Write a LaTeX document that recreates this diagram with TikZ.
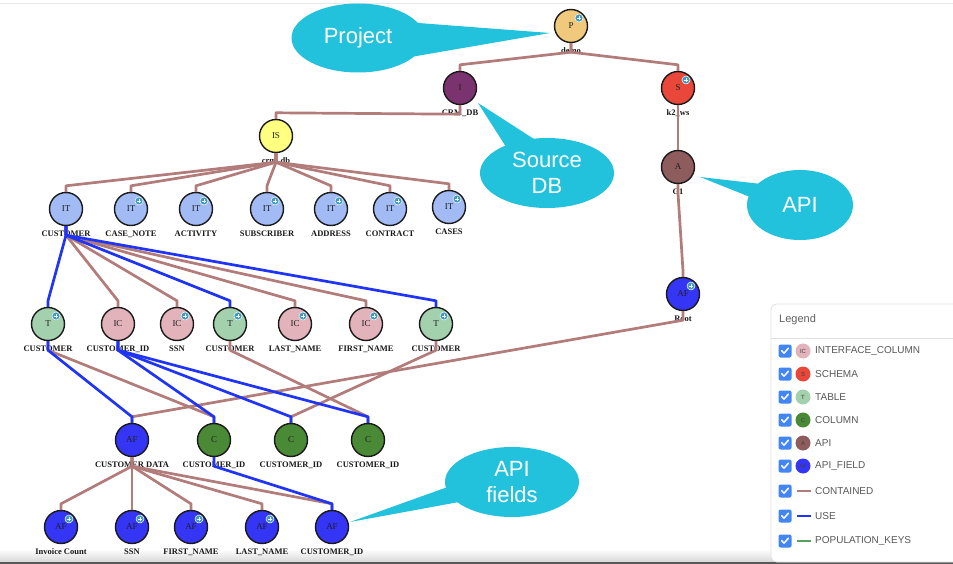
\documentclass[tikz,border=0pt]{standalone}
\usepackage{fontspec}
\setmainfont{Liberation Serif}
\newfontfamily\lsans{Liberation Sans}
\usetikzlibrary{shapes.geometric}
\definecolor{brownE}{RGB}{178,124,122}
\definecolor{blueE}{RGB}{32,52,245}
\definecolor{cP}{RGB}{240,201,124}
\definecolor{cI}{RGB}{123,51,112}
\definecolor{cS}{RGB}{232,71,58}
\definecolor{cIS}{RGB}{255,255,128}
\definecolor{cA}{RGB}{142,92,92}
\definecolor{cAF}{RGB}{53,53,245}
\definecolor{cIT}{RGB}{163,187,245}
\definecolor{cT}{RGB}{163,209,174}
\definecolor{cIC}{RGB}{227,179,188}
\definecolor{cC}{RGB}{74,138,54}
\definecolor{callc}{RGB}{34,193,220}
\definecolor{badgec}{RGB}{61,156,196}
\definecolor{chkblue}{RGB}{66,133,244}
\definecolor{leggray}{RGB}{88,88,88}
\definecolor{popg}{RGB}{90,160,96}
\newcommand\GN[6]{%
  \node[gnode, fill=#4] (#1) at (#2,#3) {#5};
  \node[glabel] (#1-l) at ({#2},{#3+25}) {#6};}
\newcommand\GB[1]{%
  \node[badge] (#1-b) at ([xshift=8pt,yshift=8pt]#1.center) {};
  \draw[white, line width=0.7pt] ([xshift=-2.3pt]#1-b.center) -- ([xshift=2.3pt]#1-b.center)
        ([yshift=-2.3pt]#1-b.center) -- ([yshift=2.3pt]#1-b.center);}
\newcommand\ED[3]{\draw[#1] (#2.south) -- ++(0,9) -- ([yshift=6pt]#3.north) -- (#3.north);}
\newcommand\CHK[2]{%
  \node[chk] (#1) at (785,#2) {};
  \draw[white, line width=1.5pt, line cap=round, line join=round]
    ([xshift=-3.3pt,yshift=0.3pt]#1.center) -- ([xshift=-1pt,yshift=-2.2pt]#1.center) -- ([xshift=3.4pt,yshift=2.8pt]#1.center);}
\newcommand\LEGC[5]{%
  \CHK{#1-c}{#2}
  \node[legcirc, fill=#3] (#1-i) at (803,#2) {#4};
  \node[legtxt] (#1-t) at (815,#2) {#5};}
\newcommand\LEGL[4]{%
  \CHK{#1-c}{#2}
  \draw[#3, line width=2pt] (797,#2) -- (811,#2);
  \node[legtxt] (#1-t) at (815,#2) {#4};}
\begin{document}
\begin{tikzpicture}[x=1pt, y=-1pt,
  gnode/.style={circle, draw=black!90, line width=1.4pt, minimum size=33pt, inner sep=0,
    font=\fontsize{9}{10}\selectfont, text=black!88},
  glabel/.style={font=\bfseries\fontsize{8.5}{10}\selectfont, inner sep=0, text=black!90},
  badge/.style={circle, fill=badgec, draw=white, line width=0.5pt, minimum size=8pt, inner sep=0},
  contained/.style={draw=brownE, line width=2.7pt, line join=round},
  use/.style={draw=blueE, line width=2.7pt, line join=round},
  callout/.style={ellipse, fill=callc, text=white, font=\lsans\fontsize{22}{26}\selectfont,
    align=center, inner sep=0},
  chk/.style={rectangle, rounded corners=2pt, fill=chkblue, minimum size=13pt, inner sep=0},
  legcirc/.style={circle, minimum size=15pt, inner sep=0, font=\lsans\fontsize{6}{7}\selectfont, text=black!75},
  legtxt/.style={anchor=west, inner sep=0, font=\lsans\fontsize{10}{12}\selectfont, text=leggray}
]
\useasboundingbox (0,0) rectangle (953,564);
\fill[white] (0,0) rectangle (953,564);
\draw[black!9, line width=1pt] (0,4) -- (953,4);
\shade[top color=white, bottom color=black!14] (0,549) rectangle (953,561);
\fill[black!65] (0,561.5) rectangle (953,564);

% ---------- graph nodes ----------
\GN{P}{571}{26}{cP}{P}{demo}
\GN{I}{460}{88}{cI}{I}{CRM\_DB}
\GN{S}{678}{88}{cS}{S}{k2\_ws}
\GN{IS}{276}{136}{cIS}{IS}{crm\_db}
\GN{A}{678}{167}{cA}{A}{G1}
\GN{R}{683}{294}{cAF}{AF}{Root}
\GN{it1}{66}{209}{cIT}{IT}{CUSTOMER}
\GN{it2}{131}{209}{cIT}{IT}{CASE\_NOTE}
\GN{it3}{196}{209}{cIT}{IT}{ACTIVITY}
\GN{it4}{267}{209}{cIT}{IT}{SUBSCRIBER}
\GN{it5}{331}{209}{cIT}{IT}{ADDRESS}
\GN{it6}{390}{209}{cIT}{IT}{CONTRACT}
\GN{it7}{449}{207}{cIT}{IT}{CASES}
\GN{t1}{48}{324}{cT}{T}{CUSTOMER}
\GN{ic1}{118}{324}{cIC}{IC}{CUSTOMER\_ID}
\GN{ic2}{177}{324}{cIC}{IC}{SSN}
\GN{t2}{230}{324}{cT}{T}{CUSTOMER}
\GN{ic3}{295}{324}{cIC}{IC}{LAST\_NAME}
\GN{ic4}{366}{324}{cIC}{IC}{FIRST\_NAME}
\GN{t3}{436}{324}{cT}{T}{CUSTOMER}
\GN{afd}{132}{440}{cAF}{AF}{CUSTOMER DATA}
\GN{c1}{214}{440}{cC}{C}{CUSTOMER\_ID}
\GN{c2}{291}{440}{cC}{C}{CUSTOMER\_ID}
\GN{c3}{368}{440}{cC}{C}{CUSTOMER\_ID}
\GN{af1}{61}{527}{cAF}{AF}{Invoice Count}
\GN{af2}{132}{527}{cAF}{AF}{SSN}
\GN{af3}{191}{527}{cAF}{AF}{FIRST\_NAME}
\GN{af4}{262}{527}{cAF}{AF}{LAST\_NAME}
\GN{af5}{332}{527}{cAF}{AF}{CUSTOMER\_ID}

\foreach \n in {P,S,R,it2,it3,it4,it5,it6,it7,t1,ic2,t2,ic3,ic4,t3,af1,af2,af3,af4}{\GB{\n}}

% ---------- edges ----------
\ED{contained}{P}{I}
\ED{contained}{P}{S}
\ED{contained}{I}{IS}
\ED{contained}{S}{A}
\ED{contained}{A}{R}
\foreach \n in {it1,it2,it3,it4,it5,it6,it7}{\ED{contained}{IS}{\n}}
\foreach \n in {ic1,ic2,ic3,ic4}{\ED{contained}{it1}{\n}}
\foreach \n in {t1,t2,t3}{\ED{use}{it1}{\n}}
\ED{contained}{t1}{c1}
\ED{contained}{t2}{c3}
\ED{contained}{t3}{c2}
\ED{contained}{R}{afd}
\ED{use}{t1}{afd}
\foreach \n in {c1,c2,c3}{\ED{use}{ic1}{\n}}
\foreach \n in {af1,af2,af3,af4,af5}{\ED{contained}{afd}{\n}}
\ED{use}{c1}{af5}

% ---------- callouts ----------
\coordinate (tipP) at (550,33);
\fill[callc] (405,22) -- (tipP) -- (405,58) -- cycle;
\node[callout, minimum width=133pt, minimum height=69pt] (coP) at (358,38) {Project};
\coordinate (tipS) at (478,103);
\fill[callc] (508,150) -- (tipS) -- (551,150) -- cycle;
\node[callout, minimum width=134pt, minimum height=70pt] (coS) at (547,173) {Source\\DB};
\coordinate (tipA) at (700,177);
\fill[callc] (770,185) -- (tipA) -- (770,205) -- cycle;
\node[callout, minimum width=106pt, minimum height=70pt] (coA) at (800,205) {API};
\coordinate (tipF) at (350,522);
\fill[callc] (470,479) -- (tipF) -- (470,500) -- cycle;
\node[callout, minimum width=134pt, minimum height=70pt] (coF) at (512,482) {API\\fields};

% ---------- legend ----------
\draw[black!12, fill=white, line width=0.8pt, rounded corners=6pt] (771,304) rectangle (975,562);
\draw[black!12, line width=0.8pt] (771,338) -- (953,338);
\node[anchor=west, inner sep=0, font=\lsans\fontsize{11}{13}\selectfont, text=black!62] (legh) at (779,320) {Legend};
\LEGC{lic}{351}{cIC}{IC}{INTERFACE\_COLUMN}
\LEGC{ls}{374}{cS}{S}{SCHEMA}
\LEGC{lt}{397}{cT}{T}{TABLE}
\LEGC{lc}{420}{cC}{C}{COLUMN}
\LEGC{la}{443}{cA}{A}{API}
\LEGC{laf}{466}{cAF}{AF}{API\_FIELD}
\LEGL{lco}{491}{brownE}{CONTAINED}
\LEGL{lu}{516}{blueE}{USE}
\LEGL{lp}{541}{popg}{POPULATION\_KEYS}
\end{tikzpicture}
\end{document}
